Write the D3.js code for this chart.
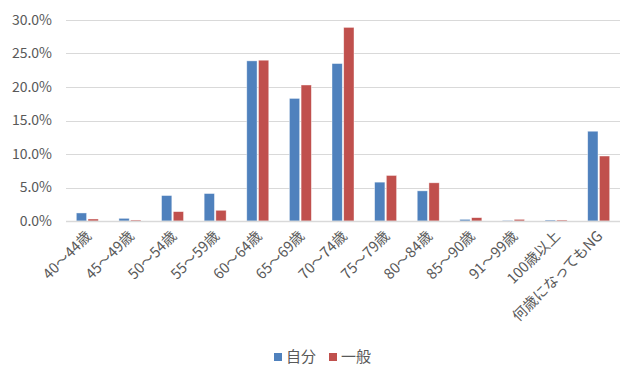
<!DOCTYPE html>
<html>
<head>
<meta charset="utf-8">
<script src="https://cdn.jsdelivr.net/npm/d3@7"></script>
<style>
  body { margin: 0; background: #fff; }
  #chart { width: 640px; height: 385px; }
  text { font-family: "Noto Sans CJK JP", "Noto Sans", sans-serif; fill: #595959; }
</style>
</head>
<body>
<div id="chart"></div>
<script>
// categories and the two series (percent)
var categories = ["40～44歳", "45～49歳", "50～54歳", "55～59歳", "60～64歳", "65～69歳",
  "70～74歳", "75～79歳", "80～84歳", "85～90歳", "91～99歳", "100歳以上", "何歳になってもNG"];
var jibun = [1.2, 0.4, 3.8, 4.1, 23.9, 18.3, 23.5, 5.8, 4.5, 0.25, 0.1, 0.15, 13.4];
var ippan = [0.3, 0.15, 1.4, 1.6, 24.0, 20.3, 28.9, 6.8, 5.7, 0.5, 0.25, 0.15, 9.7];
var seriesNames = ["自分", "一般"];
var colors = ["#4f81bd", "#c0504d"];
var yTicks = [0, 5, 10, 15, 20, 25, 30];

var margin = { top: 20, right: 20, bottom: 164, left: 66 };
var width = 640 - margin.left - margin.right;
var height = 385 - margin.top - margin.bottom;

var svg = d3.select("#chart").append("svg")
  .attr("width", 640)
  .attr("height", 385);

var g = svg.append("g")
  .attr("transform", "translate(" + margin.left + "," + margin.top + ")");

var x = d3.scaleBand()
  .domain(categories)
  .range([0, width])
  .paddingInner(0)
  .paddingOuter(0);

var sub = d3.scaleBand()
  .domain([0, 1])
  .range([x.bandwidth() / 2 - 11, x.bandwidth() / 2 + 11])
  .paddingInner(0.12);

var y = d3.scaleLinear()
  .domain([0, 30])
  .range([height, 0]);

// gridlines
g.append("g")
  .selectAll("line")
  .data(yTicks)
  .enter().append("line")
  .attr("x1", 0)
  .attr("x2", width)
  .attr("y1", function (d) { return Math.round(y(d)) + 0.5; })
  .attr("y2", function (d) { return Math.round(y(d)) + 0.5; })
  .attr("stroke", "#d9d9d9")
  .attr("stroke-width", 1);

// y axis labels
var yAxis = d3.axisLeft(y)
  .tickValues(yTicks)
  .tickSize(0)
  .tickPadding(14)
  .tickFormat(function (d) { return d.toFixed(1) + "%"; });

var ya = g.append("g").call(yAxis);
ya.select(".domain").remove();
ya.selectAll("text")
  .style("font-size", "14px")
  .style("fill", "#595959");

// bars
var rows = categories.map(function (c, i) {
  return { cat: c, vals: [jibun[i], ippan[i]] };
});

var groups = g.selectAll(".cat")
  .data(rows)
  .enter().append("g")
  .attr("class", "cat")
  .attr("transform", function (d) { return "translate(" + x(d.cat) + ",0)"; });

groups.selectAll("rect")
  .data(function (d) { return d.vals.map(function (v, k) { return { k: k, v: v }; }); })
  .enter().append("rect")
  .attr("x", function (d) { return sub(d.k); })
  .attr("width", sub.bandwidth())
  .attr("y", function (d) { return y(d.v); })
  .attr("height", function (d) { return height - y(d.v); })
  .attr("fill", function (d) { return colors[d.k]; })
  .attr("stroke", "#ffffff")
  .attr("stroke-opacity", 0.6)
  .attr("stroke-width", 0.7);

// x axis line
g.append("line")
  .attr("x1", 0)
  .attr("x2", width)
  .attr("y1", Math.round(height) + 0.5)
  .attr("y2", Math.round(height) + 0.5)
  .attr("stroke", "#d9d9d9")
  .attr("stroke-width", 1.5);

// x labels
var xAxis = d3.axisBottom(x).tickSize(0).tickPadding(0);
var xa = g.append("g")
  .attr("transform", "translate(0," + height + ")")
  .call(xAxis);
xa.select(".domain").remove();
xa.selectAll("text")
  .style("font-size", "14.5px")
  .style("fill", "#595959")
  .attr("text-anchor", "end")
  .attr("dy", null)
  .attr("y", 0)
  .attr("transform", "translate(5,16) rotate(-45)");

// legend
var legend = svg.append("g")
  .attr("transform", "translate(274,357)");

var items = legend.selectAll("g")
  .data(seriesNames)
  .enter().append("g")
  .attr("transform", function (d, i) { return "translate(" + (i * 55) + ",0)"; });

items.append("rect")
  .attr("x", 0)
  .attr("y", -4)
  .attr("width", 8)
  .attr("height", 8)
  .attr("fill", function (d, i) { return colors[i]; });

items.append("text")
  .attr("x", 12)
  .attr("y", 0)
  .attr("dy", "0.35em")
  .style("font-size", "15px")
  .text(function (d) { return d; });
</script>
</body>
</html>
